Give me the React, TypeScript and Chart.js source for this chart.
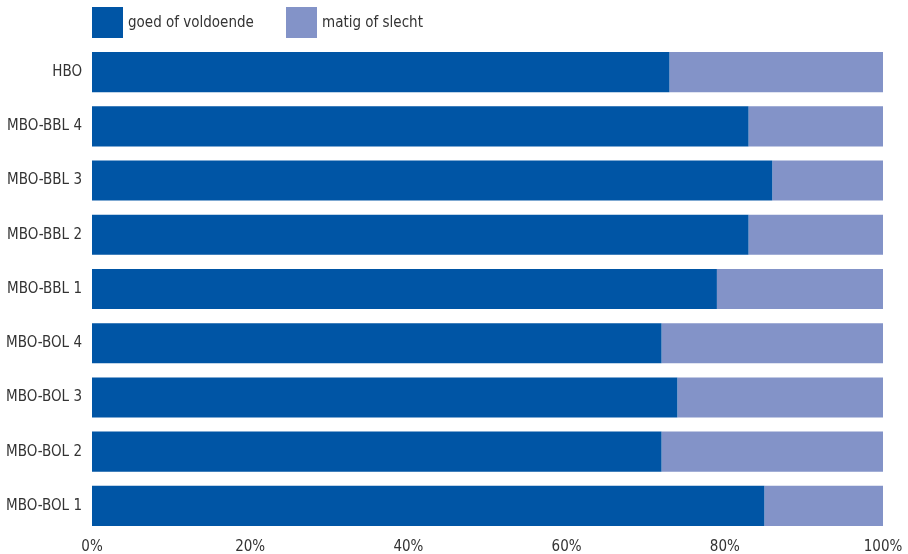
import React, { useEffect, useRef } from "react";
import { Chart, registerables } from "chart.js";

Chart.register(...registerables);

const categories = [
  "HBO",
  "MBO-BBL 4",
  "MBO-BBL 3",
  "MBO-BBL 2",
  "MBO-BBL 1",
  "MBO-BOL 4",
  "MBO-BOL 3",
  "MBO-BOL 2",
  "MBO-BOL 1",
];
const goedValues = [73, 83, 86, 83, 79, 72, 74, 72, 85];
const matigValues = [27, 17, 14, 17, 21, 28, 26, 28, 15];
const seriesNames = ["goed of voldoende", "matig of slecht"];
const xTicks = [0, 20, 40, 60, 80, 100];

const FONT = "'Liberation Sans Narrow', 'DejaVu Sans Condensed', 'Open Sans', sans-serif";
const TEXT = "#333333";
const FS = 15;

const legendPlugin = {
  id: "customLegend",
  afterDraw(chart: any) {
    const ctx = chart.ctx;
    const left = chart.chartArea.left;
    const box = 31;
    const top = 7;
    ctx.save();
    ctx.font = `${FS}px ${FONT}`;
    ctx.textBaseline = "middle";
    ctx.textAlign = "left";
    let x = left;
    chart.data.datasets.forEach((ds: any) => {
      ctx.fillStyle = ds.backgroundColor;
      ctx.fillRect(x, top, box, box);
      ctx.fillStyle = TEXT;
      ctx.fillText(ds.label, x + box + 5, top + box / 2 + 1);
      x += 194;
    });
    ctx.restore();
  },
};

export default function App() {
  const ref = useRef<HTMLCanvasElement | null>(null);
  useEffect(() => {
    document.body.style.margin = "0";
    if (!ref.current) return;
    const chart = new Chart(ref.current, {
      type: "bar",
      data: {
        labels: categories,
        datasets: [
          {
            label: seriesNames[0],
            data: goedValues,
            backgroundColor: "#0055A5",
            barPercentage: 0.74,
            categoryPercentage: 1,
          },
          {
            label: seriesNames[1],
            data: matigValues,
            backgroundColor: "#8393C8",
            barPercentage: 0.74,
            categoryPercentage: 1,
          },
        ],
      },
      options: {
        indexAxis: "y",
        animation: false,
        responsive: false,
        maintainAspectRatio: false,
        layout: { padding: { top: 45, right: 25, left: 0, bottom: 0 } },
        plugins: {
          legend: { display: false },
          tooltip: { enabled: false },
        },
        scales: {
          x: {
            stacked: true,
            min: 0,
            max: 100,
            afterBuildTicks(scale: any) {
              scale.ticks = xTicks.map((v) => ({ value: v }));
            },
            afterFit(scale: any) {
              scale.height = 21;
            },
            grid: { display: false, drawTicks: false },
            border: { display: false },
            ticks: {
              color: TEXT,
              font: { family: FONT, size: FS },
              padding: 5,
              maxRotation: 0,
              callback: (v: any) => `${v}%`,
            },
          },
          y: {
            stacked: true,
            afterFit(scale: any) {
              scale.width = 92;
            },
            grid: { display: false, drawTicks: false },
            border: { display: false },
            ticks: {
              color: TEXT,
              font: { family: FONT, size: FS },
              padding: 10,
            },
          },
        },
      },
      plugins: [legendPlugin],
    } as any);
    return () => chart.destroy();
  }, []);
  return (
    <div style={{ width: 908, height: 554 }}>
      <canvas ref={ref} width={908} height={554} style={{ display: "block" }} />
    </div>
  );
}
